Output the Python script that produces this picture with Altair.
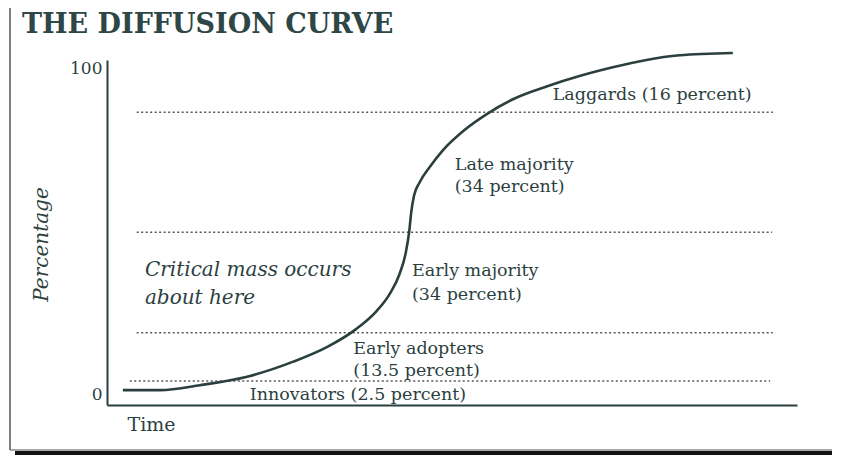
import altair as alt
import pandas as pd

# ---- data ----
curve_time = [2.3, 7.7, 13.5, 20.3, 27.0, 32.0, 36.0, 39.0, 41.0, 42.4, 43.3, 43.8, 44.1, 44.5,
              45.3, 46.8, 48.7, 51.9, 55.1, 59.0, 63.8, 68.6, 73.3, 78.0, 83.0, 90.7]
curve_pct = [1.5, 1.5, 3.0, 5.6, 10.2, 14.8, 20.0, 25.5, 31.0, 37.0, 43.5, 50.0, 56.0, 61.0,
             65.0, 69.8, 74.9, 81.2, 86.0, 90.6, 94.4, 97.6, 100.2, 102.4, 103.9, 104.6]

boundary_pct = [86.5, 49.8, 19.0, 4.3]
boundary_start = [4.3, 4.3, 4.3, 3.3]
boundary_end = [96.5, 96.4, 96.5, 96.1]

label_text = ["Laggards (16 percent)", "Late majority", "(34 percent)",
              "Early majority", "(34 percent)", "Early adopters", "(13.5 percent)",
              "Innovators (2.5 percent)"]
label_time = [64.6, 50.4, 50.4, 44.2, 44.2, 35.7, 35.7, 20.7]
label_pct = [91.7, 70.3, 63.6, 37.9, 30.6, 14.1, 7.3, 0.0]

note_text = ["Critical mass occurs", "about here"]
note_time = [5.5, 5.5]
note_pct = [38.2, 29.7]

y_ticks = [0, 100]

INK = "#2c3f3f"
FONT = "DejaVu Serif"

curve_df = pd.DataFrame({"t": curve_time, "p": curve_pct})
bound_df = pd.DataFrame({"p": boundary_pct, "x0": boundary_start, "x1": boundary_end})
label_df = pd.DataFrame({"t": label_time, "p": label_pct, "txt": label_text})
note_df = pd.DataFrame({"t": note_time, "p": note_pct, "txt": note_text})
deco_df = pd.DataFrame({"k": [0]})

xs = alt.Scale(domain=[0, 100], nice=False, zero=False)
ys = alt.Scale(domain=[-3.06, 102.45], nice=False, zero=False)

base_x = alt.X("t:Q", scale=xs,
               axis=alt.Axis(title="Time", labels=False, ticks=False, grid=False,
                             domainColor=INK, domainWidth=2,
                             titleFont=FONT, titleFontSize=19, titleFontWeight="normal",
                             titleColor=INK, titleAnchor="start", titleAlign="left",
                             titleX=20, titleY=10, titleBaseline="top"))
base_y = alt.Y("p:Q", scale=ys,
               axis=alt.Axis(title="Percentage", values=y_ticks, ticks=False, grid=False,
                             domainColor=INK, domainWidth=2,
                             labelFont=FONT, labelFontSize=17, labelColor=INK, labelPadding=5,
                             titleFont=FONT, titleFontSize=20, titleFontStyle="italic",
                             titleFontWeight="normal", titleColor=INK, titlePadding=18,
                             titleY=184))

curve = alt.Chart(curve_df).mark_line(color=INK, strokeWidth=2.6, interpolate="monotone").encode(
    x=base_x, y=base_y)

bounds = alt.Chart(bound_df).mark_rule(color="#555555", strokeWidth=1.5, strokeDash=[2, 2.5]).encode(
    x=alt.X("x0:Q", scale=xs), x2="x1:Q", y=alt.Y("p:Q", scale=ys))

labels = alt.Chart(label_df).mark_text(align="left", baseline="middle", font=FONT,
                                       fontSize=17.5, color=INK).encode(
    x=alt.X("t:Q", scale=xs), y=alt.Y("p:Q", scale=ys), text="txt:N")

notes = alt.Chart(note_df).mark_text(align="left", baseline="middle", font=FONT,
                                     fontSize=20, fontStyle="italic", color=INK).encode(
    x=alt.X("t:Q", scale=xs), y=alt.Y("p:Q", scale=ys), text="txt:N")

# scanned page frame (decoration)
left_border = alt.Chart(deco_df).mark_rule(color="#555555", strokeWidth=1.5).encode(
    x=alt.value(-97), y=alt.value(-60), y2=alt.value(390))
bottom_thin = alt.Chart(deco_df).mark_rule(color="#555555", strokeWidth=1.2).encode(
    x=alt.value(-97), x2=alt.value(725), y=alt.value(390))
bottom_bar = alt.Chart(deco_df).mark_rule(color="#111111", strokeWidth=4).encode(
    x=alt.value(-92), x2=alt.value(725), y=alt.value(393))
top_faint = alt.Chart(deco_df).mark_rule(color="#aaaaaa", strokeWidth=1, strokeDash=[2, 3]).encode(
    x=alt.value(458), x2=alt.value(725), y=alt.value(-53))

chart = alt.layer(bounds, curve, labels, notes, left_border, bottom_thin, bottom_bar, top_faint).properties(
    width=690, height=345,
    background="white",
    autosize=alt.AutoSizeParams(type="none"),
    padding={"left": 99, "top": 52, "right": 35, "bottom": 50},
    title=alt.TitleParams("THE DIFFUSION CURVE", anchor="start", frame="group", dx=-85, dy=58,
                          offset=18, font=FONT, fontSize=27, fontWeight="bold", color="#2e4646"),
).configure_view(stroke=None)

chart.save("out.html", embed_options={"renderer": "svg", "actions": False})
